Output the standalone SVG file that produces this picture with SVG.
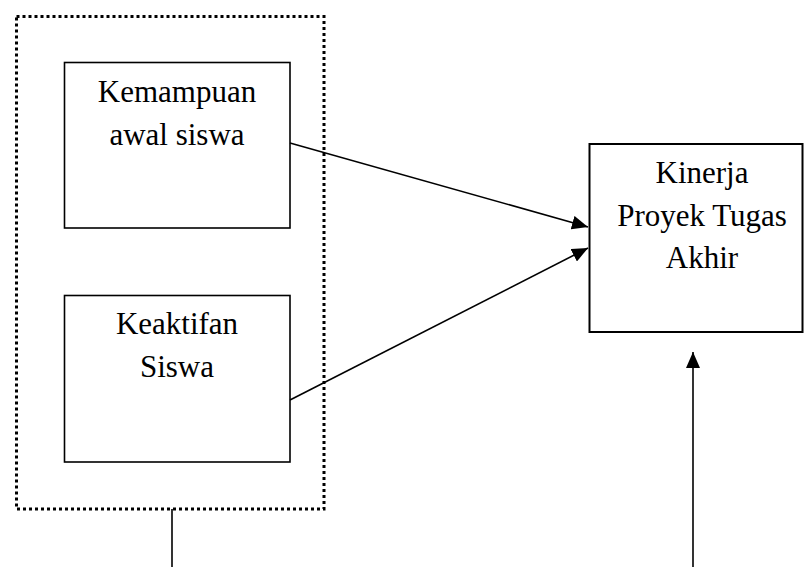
<svg xmlns="http://www.w3.org/2000/svg" width="804" height="567" viewBox="0 0 804 567">
<style>
.box{fill:#fff;stroke:#000;stroke-width:1.6}
.lbl{font-family:"Liberation Serif","Times New Roman",serif;font-size:31px;fill:#000;text-anchor:middle}
.con{stroke:#000;stroke-width:1.6;fill:none}
.grp{fill:none;stroke:#000;stroke-width:3;stroke-dasharray:3 3}
</style>
<defs>
<marker id="ah" viewBox="0 0 16 14" refX="16" refY="7" markerWidth="16" markerHeight="14" markerUnits="userSpaceOnUse" orient="auto">
<path d="M0,0 L16,7 L0,14 z" fill="#000"/>
</marker>
</defs>
<rect width="804" height="567" fill="#fff"/>
<g id="group-inputs">
<rect class="grp" x="16.5" y="16.5" width="307.5" height="492.5"/>
</g>
<g id="node-kemampuan">
<rect class="box" x="64.5" y="62.5" width="225.5" height="165.5"/>
<text class="lbl" x="177" y="102">Kemampuan</text>
<text class="lbl" x="177" y="145">awal siswa</text>
</g>
<g id="node-keaktifan">
<rect class="box" x="64.5" y="295.5" width="225.5" height="166.5"/>
<text class="lbl" x="177" y="334">Keaktifan</text>
<text class="lbl" x="177" y="377">Siswa</text>
</g>
<g id="node-kinerja">
<rect class="box" x="589.5" y="144" width="213" height="188" style="stroke-width:2"/>
<text class="lbl" x="702" y="183">Kinerja</text>
<text class="lbl" x="702" y="226">Proyek Tugas</text>
<text class="lbl" x="702" y="268">Akhir</text>
</g>
<g id="connectors">
<line class="con" x1="290" y1="143" x2="588" y2="227" marker-end="url(#ah)"/>
<line class="con" x1="290" y1="400" x2="588" y2="248" marker-end="url(#ah)"/>
<line class="con" x1="693" y1="567" x2="693" y2="352" marker-end="url(#ah)"/>
<line class="con" x1="172" y1="509" x2="172" y2="567"/>
</g>
</svg>
